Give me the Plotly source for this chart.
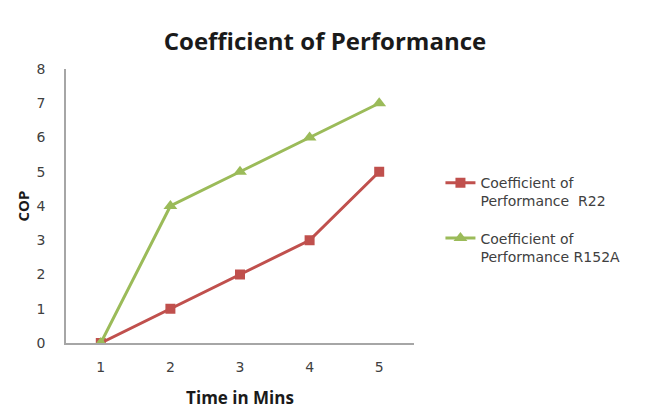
import plotly.graph_objects as go

# Time (minutes) and COP readings for the two refrigerants
time_mins = ["1", "2", "3", "4", "5"]
cop_r22 = [0, 1, 2, 3, 5]
cop_r152a = [0, 4, 5, 6, 7]
y_ticks = [0, 1, 2, 3, 4, 5, 6, 7, 8]

RED = "#C0504D"
GREEN = "#9BBB59"
TXT = "#404040"

fig = go.Figure()
fig.add_trace(go.Scatter(
    x=time_mins, y=cop_r22, mode="lines+markers",
    name="Coefficient of<br>Performance  R22", legendgroup="r22",
    line=dict(color=RED, width=3),
    marker=dict(symbol="square", size=10, color=RED),
))
fig.add_trace(go.Scatter(
    x=time_mins, y=cop_r152a, mode="lines+markers",
    name="Coefficient of<br>Performance R152A", legendgroup="r152a",
    line=dict(color=GREEN, width=3),
    marker=dict(symbol="triangle-up", size=12, color=GREEN),
))

fig.update_layout(
    width=648, height=409,
    margin=dict(l=66, r=234, t=69, b=66),
    paper_bgcolor="white", plot_bgcolor="white",
    font=dict(family="Open Sans, sans-serif", size=13, color=TXT),
    title=dict(
        text="<b>Coefficient of Performance</b>",
        x=(325 / 648), xanchor="center", y=1 - 42 / 409, yanchor="middle",
        font=dict(size=24, color="#1a1a1a"),
    ),
    showlegend=True,
    legend=dict(
        x=1.076, xanchor="left", y=0.642, yanchor="top",
        valign="top", font=dict(family="DejaVu Sans, sans-serif", size=14, color=TXT),
        tracegroupgap=16, itemwidth=30,
    ),
)
fig.update_xaxes(
    type="category", range=[-0.5, 4.5], automargin=False,
    showline=True, linecolor="#A6A6A6", linewidth=1.5,
    showgrid=False, zeroline=False, ticks="",
    tickfont=dict(family="DejaVu Sans, sans-serif", size=14, color=TXT), ticklabelstandoff=10,
    title=dict(text="<b>Time in Mins</b>", font=dict(size=17, color="#1a1a1a"), standoff=20),
)
fig.update_yaxes(
    range=[0, 8], tickvals=y_ticks, automargin=False,
    showline=True, linecolor="#A6A6A6", linewidth=1.5,
    showgrid=False, zeroline=False, ticks="",
    tickfont=dict(family="DejaVu Sans, sans-serif", size=14, color=TXT), ticklabelstandoff=16,
    title=dict(text="<b>COP</b>", font=dict(size=15, color="#1a1a1a"), standoff=3),
)

fig.write_html("out.html")
